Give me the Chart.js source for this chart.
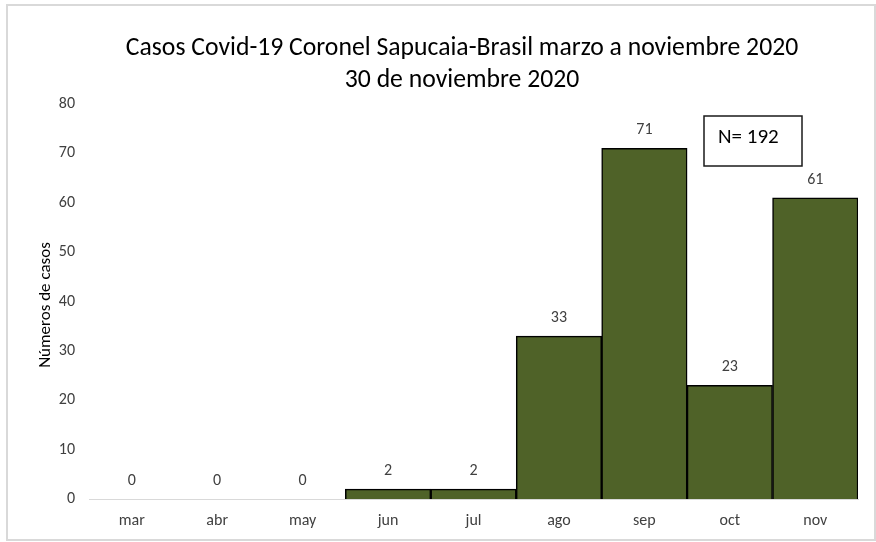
<!DOCTYPE html>
<html>
<head>
<meta charset="utf-8">
<script src="https://cdn.jsdelivr.net/npm/chart.js@4"></script>
<style>
  html, body { margin: 0; padding: 0; background: #fff; }
  #wrap { width: 876px; height: 542px; position: relative; }
</style>
</head>
<body>
<div id="wrap"><canvas id="chart" width="876" height="542"></canvas></div>
<script>
// Data
const months = ["mar", "abr", "may", "jun", "jul", "ago", "sep", "oct", "nov"];
const cases = [0, 0, 0, 2, 2, 33, 71, 23, 61];
const titleLines = ["Casos Covid-19 Coronel Sapucaia-Brasil marzo a noviembre 2020", "30 de noviembre 2020"];
const yTitle = "Números de casos";
const totalLabel = "N= 192";

const FONT = "Calibri, Carlito, 'Open Sans', 'Liberation Sans', sans-serif";

// frame + titles
const frame = {
  id: "frame",
  beforeDraw(c) {
    const ctx = c.ctx;
    ctx.save();
    ctx.fillStyle = "#fff";
    ctx.fillRect(0, 0, c.width, c.height);
    ctx.strokeStyle = "#d9d9d9";
    ctx.lineWidth = 2;
    ctx.strokeRect(7, 5, 868, 535);
    ctx.fillStyle = "#000";
    ctx.textAlign = "center";
    ctx.textBaseline = "alphabetic";
    ctx.font = "25.7px " + FONT;
    ctx.fillText(titleLines[0], 462, 55);
    ctx.fillText(titleLines[1], 462, 87);
    ctx.font = "17px " + FONT;
    ctx.translate(50, 305);
    ctx.rotate(-Math.PI / 2);
    ctx.fillText(yTitle, 0, 0);
    ctx.restore();
  }
};

// value labels above bars + N box
const labels = {
  id: "labels",
  afterDatasetsDraw(c) {
    const ctx = c.ctx, meta = c.getDatasetMeta(0);
    ctx.save();
    ctx.font = "16px " + FONT;
    ctx.fillStyle = "#404040";
    ctx.textAlign = "center";
    ctx.textBaseline = "middle";
    meta.data.forEach((bar, i) => {
      ctx.fillText(String(cases[i]), bar.x, bar.y - 18);
    });
    // N box
    const a = c.chartArea;
    const bx = a.left + 615, by = a.top + 12;
    ctx.fillStyle = "#fff";
    ctx.fillRect(bx, by, 98, 50);
    ctx.strokeStyle = "#1a1a1a";
    ctx.lineWidth = 1.5;
    ctx.strokeRect(bx, by, 98, 50);
    ctx.font = "21px " + FONT;
    ctx.fillStyle = "#000";
    ctx.textAlign = "left";
    ctx.fillText(totalLabel, bx + 14, by + 22);
    ctx.restore();
  }
};

new Chart(document.getElementById("chart"), {
  type: "bar",
  data: {
    labels: months,
    datasets: [{
      data: cases,
      backgroundColor: "#4f6228",
      borderColor: "#000",
      borderWidth: 1.5,
      barPercentage: 1,
      categoryPercentage: 1
    }]
  },
  options: {
    responsive: false,
    animation: false,
    layout: { padding: { left: 8, right: 18, bottom: 13, top: 104 } },
    plugins: {
      legend: { display: false },
      tooltip: { enabled: false },
      title: { display: false }
    },
    scales: {
      x: {
        grid: { display: false },
        border: { display: true, color: "#d9d9d9", width: 1 },
        ticks: { color: "#404040", font: { size: 16, family: FONT }, padding: 4 },
        afterFit(s) { s.height = 30; }
      },
      y: {
        min: 0, max: 80,
        grid: { display: false, drawTicks: false },
        border: { display: false },
        ticks: { stepSize: 10, color: "#404040", font: { size: 16, family: FONT }, padding: 14 },
        afterFit(s) { s.width = 81; }
      }
    }
  },
  plugins: [frame, labels]
});
</script>
</body>
</html>
